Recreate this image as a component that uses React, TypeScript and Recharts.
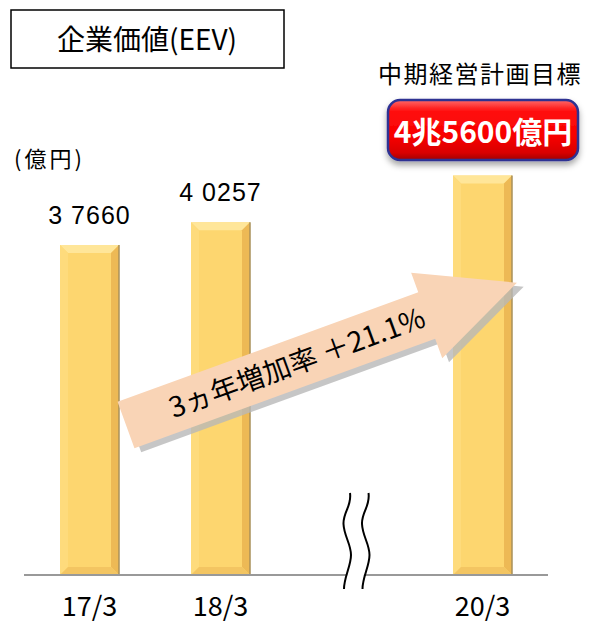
import { BarChart, Bar, XAxis, YAxis, LabelList } from 'recharts';

// 年度（3月期）
const categories = ['17/3', '18/3', '', '20/3'];
// 企業価値 EEV（億円）
const eevValues = [37660, 40257, null, 45600];
// 数値ラベルを出す棒
const showValueLabel = [true, true, false, false];

const data = categories.map((c, i) => ({
  period: c,
  eev: eevValues[i],
  show: showValueLabel[i],
}));

const JP = '"Noto Sans CJK JP", "Noto Sans", sans-serif';

const fmtOku = (v: number) => `${Math.floor(v / 10000)} ${String(v % 10000).padStart(4, '0')}`;

// 立体風（ベベル）の棒
function BevelBar(props: any) {
  const { x, y, width: w, height: h } = props;
  if (!h || h <= 0) return null;
  const b = 8;
  return (
    <g>
      <rect x={x} y={y} width={w} height={h} fill="#FDD66F" />
      <polygon points={`${x},${y} ${x + w},${y} ${x + w - b},${y + b} ${x + b},${y + b}`} fill="#FFE699" />
      <polygon points={`${x},${y} ${x + b},${y + b} ${x + b},${y + h - b} ${x},${y + h}`} fill="#FEDB7C" />
      <polygon points={`${x + w},${y} ${x + w},${y + h} ${x + w - b},${y + h - b} ${x + w - b},${y + b}`} fill="#EDB955" />
      <polygon points={`${x},${y + h} ${x + w},${y + h} ${x + w - b},${y + h - b} ${x + b},${y + h - b}`} fill="#F3C562" />
      <line x1={x + w} y1={y} x2={x + w} y2={y + h} stroke="#A8905A" strokeWidth={1.5} />
    </g>
  );
}

function ValueLabel(props: any) {
  const { x, y, width, value, index } = props;
  if (!data[index] || !data[index].show || value == null) return null;
  return (
    <text
      x={x + width / 2}
      y={y - 21}
      textAnchor="middle"
      fontFamily='"Liberation Sans", Arial, sans-serif'
      fontSize={25}
      letterSpacing={1}
      fill="#000"
    >
      {fmtOku(value)}
    </text>
  );
}

function PeriodTick(props: any) {
  const { x, y, payload } = props;
  return (
    <text x={x} y={y + 41} textAnchor="middle" fontFamily={JP} fontSize={27} fill="#000">
      {payload.value}
    </text>
  );
}

// 矢印（局所座標：尾の中心が原点、右向き）
const arrowPts = '0,-24.7 320,-24.7 320,-45.5 416,0 320,45.5 320,24.7 0,24.7';

function Wave({ dx }: { dx: number }) {
  const d = `M${350 + dx},493 C${352 + dx},506 ${343 + dx},512 ${343.5 + dx},524 S${351 + dx},544 ${351 + dx},555 S${344 + dx},577 ${344 + dx},589`;
  return <path d={d} fill="none" stroke="#000" strokeWidth={2} />;
}

export default function App() {
  return (
    <div style={{ position: 'absolute', left: 0, top: 0, width: 590, height: 624, background: '#fff' }}>
      <BarChart width={590} height={624} data={data} margin={{ top: 137, right: 42, left: 24, bottom: 0 }}>
        <XAxis
          dataKey="period"
          height={49}
          tickLine={false}
          tickSize={0}
          tickMargin={0}
          axisLine={{ stroke: '#999999', strokeWidth: 2 }}
          tick={<PeriodTick />}
          interval={0}
        />
        <YAxis hide domain={[0, 50000]} />
        <Bar dataKey="eev" barSize={59} shape={<BevelBar />} isAnimationActive={false}>
          <LabelList dataKey="eev" content={<ValueLabel />} />
        </Bar>
      </BarChart>

      <svg width={590} height={624} style={{ position: 'absolute', left: 0, top: 0, pointerEvents: 'none' }}>
        <defs>
          <linearGradient id="badgeFill" x1="0" y1="0" x2="0" y2="1">
            <stop offset="0%" stopColor="#ff6a6a" />
            <stop offset="18%" stopColor="#ff1010" />
            <stop offset="60%" stopColor="#f80000" />
            <stop offset="88%" stopColor="#d80000" />
            <stop offset="100%" stopColor="#a00000" />
          </linearGradient>
          <filter id="badgeShadow" x="-10%" y="-20%" width="120%" height="150%">
            <feDropShadow dx="0" dy="4" stdDeviation="3" floodColor="#000" floodOpacity="0.35" />
          </filter>
        </defs>

        {/* タイトル枠 */}
        <rect x={11} y={10} width={273} height={58} fill="#fff" stroke="#000" strokeWidth={1.5} />
        <text x={147} y={50} textAnchor="middle" fontFamily={JP} fontSize={28} fill="#000">
          企業価値(EEV)
        </text>

        {/* 単位 */}
        <text x={14} y={167} fontFamily={JP} fontSize={22} letterSpacing={3} fill="#000">
          (億円)
        </text>

        {/* 中期経営計画目標 */}
        <text x={378} y={83} fontFamily={JP} fontSize={24} letterSpacing={1.5} fill="#000">
          中期経営計画目標
        </text>
        <rect x={388} y={100} width={190} height={60} rx={12} ry={12} fill="url(#badgeFill)" stroke="#2e3192" strokeWidth={2.5} filter="url(#badgeShadow)" />
        <text x={483} y={143} textAnchor="middle" fontFamily={JP} fontWeight={700} fontSize={30} fill="#fff">
          4兆5600億円
        </text>

        {/* 増加率の矢印 */}
        <g transform="translate(126,425) rotate(-20)">
          <polygon points={arrowPts} fill="#b8b8b8" opacity={0.8} transform="translate(5,6)" />
          <polygon points={arrowPts} fill="#F9D4B6" />
          <text x={182} y={10} textAnchor="middle" fontFamily={JP} fontSize={28} fill="#000">
            3ヵ年増加率 ＋21.1%
          </text>
        </g>

        {/* 省略記号 */}
        <path
          d="M359,493 C361,506 352,512 352.5,524 S360,544 360,555 S353,577 353,589"
          fill="none"
          stroke="#fff"
          strokeWidth={16}
        />
        <Wave dx={0} />
        <Wave dx={18.5} />
      </svg>
    </div>
  );
}
